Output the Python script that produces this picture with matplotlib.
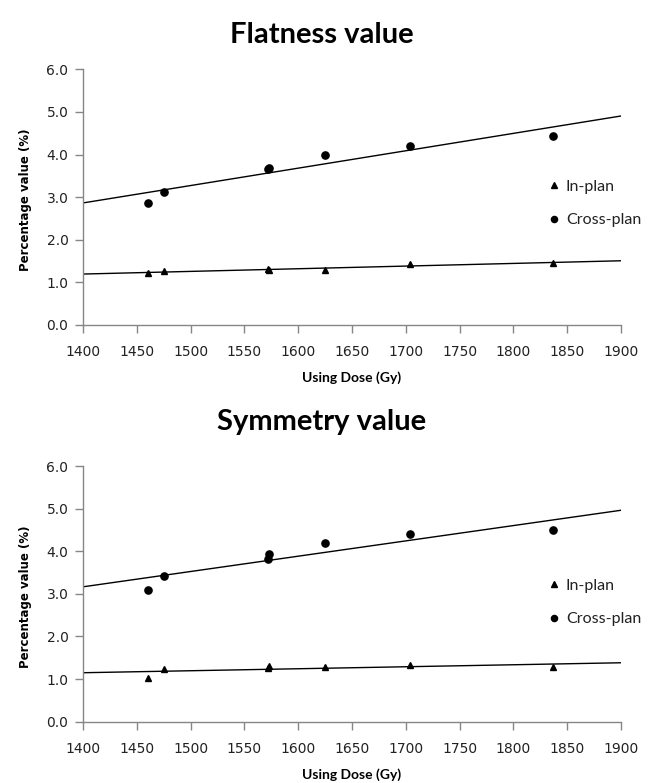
import numpy as np
import matplotlib
matplotlib.use("Agg")
import matplotlib.pyplot as plt

dose = [1460, 1475, 1572, 1573, 1625, 1704, 1837]

flat_in = [1.23, 1.26, 1.32, 1.28, 1.29, 1.43, 1.46]
flat_cross = [2.86, 3.13, 3.65, 3.69, 3.98, 4.20, 4.44]

sym_in = [1.03, 1.24, 1.25, 1.30, 1.29, 1.32, 1.29]
sym_cross = [3.09, 3.42, 3.81, 3.94, 4.20, 4.40, 4.49]

titles = ["Flatness value", "Symmetry value"]
series_labels = ["In-plan", "Cross-plan"]
x_ticks = [1400, 1450, 1500, 1550, 1600, 1650, 1700, 1750, 1800, 1850, 1900]
y_ticks = [0.0, 1.0, 2.0, 3.0, 4.0, 5.0, 6.0]
x_label = "Using Dose (Gy)"
y_label = "Percentage value (%)"

W, H = 649, 783
fig = plt.figure(figsize=(W / 100, H / 100), dpi=100)

GRAY = "#868686"

panels = [
    dict(data=(flat_in, flat_cross), top=69.3, bottom=325.0, title_y=35, leg_y=203.5),
    dict(data=(sym_in, sym_cross), top=466.0, bottom=721.7, title_y=421.7, leg_y=602.5),
]

for p, title in zip(panels, titles):
    left, right = 83, 621
    ax = fig.add_axes([left / W, 1 - p["bottom"] / H, (right - left) / W,
                       (p["bottom"] - p["top"]) / H])
    yin, ycross = p["data"]
    xs = np.array(dose, dtype=float)
    xl = np.array([x_ticks[0], x_ticks[-1]], dtype=float)
    # linear trendlines (least squares)
    for ys in (yin, ycross):
        c = np.polyfit(xs, np.array(ys), 1)
        ax.plot(xl, np.polyval(c, xl), color="black", lw=1.0, zorder=2)
    ax.plot(xs, yin, linestyle="none", marker="^", color="black", ms=5.0,
            label=series_labels[0], zorder=3)
    ax.plot(xs, ycross, linestyle="none", marker="o", color="black", ms=5.2,
            label=series_labels[1], zorder=3)

    ax.set_xlim(x_ticks[0], x_ticks[-1])
    ax.set_ylim(y_ticks[0], y_ticks[-1])
    ax.set_xticks(x_ticks)
    ax.set_yticks(y_ticks)
    ax.set_xticklabels([str(v) for v in x_ticks])
    ax.set_yticklabels([f"{v:.1f}" for v in y_ticks])
    for s in ("top", "right"):
        ax.spines[s].set_visible(False)
    for s in ("left", "bottom"):
        ax.spines[s].set_color(GRAY)
        ax.spines[s].set_linewidth(1.0)
    ax.tick_params(axis="both", direction="out", length=5.5, width=1.0,
                   color=GRAY, labelsize=10, labelcolor="#222222")
    ax.tick_params(axis="x", pad=9)
    ax.tick_params(axis="y", pad=5)
    for lab in ax.get_xticklabels() + ax.get_yticklabels():
        lab.set_family("DejaVu Sans")

    hpx = p["bottom"] - p["top"]
    ax.set_xlabel(x_label, fontsize=10, fontweight="bold", family="Lato")
    ax.xaxis.set_label_coords(0.5, -(53) / hpx)
    ax.xaxis.label.set_va("center")
    ax.set_ylabel(y_label, fontsize=8.5, fontweight="bold", family="DejaVu Sans")
    ax.yaxis.set_label_coords((25 - left) / (right - left), 0.49)
    ax.yaxis.label.set_va("center")

    leg = ax.legend(loc="center left",
                    bbox_to_anchor=((549 - left) / (right - left),
                                    (p["bottom"] - p["leg_y"]) / hpx),
                    frameon=False, fontsize=11.5, handlelength=0.6,
                    handletextpad=0.45, labelspacing=1.2, borderpad=0,
                    borderaxespad=0, markerscale=0.85)
    for t in leg.get_texts():
        t.set_family("Lato")
        t.set_color("#222222")

    fig.text(322 / W, 1 - p["title_y"] / H, title, ha="center", va="center",
             fontsize=21, fontweight="bold", family="Lato")

fig.savefig("out.png", dpi=100, facecolor="white")
